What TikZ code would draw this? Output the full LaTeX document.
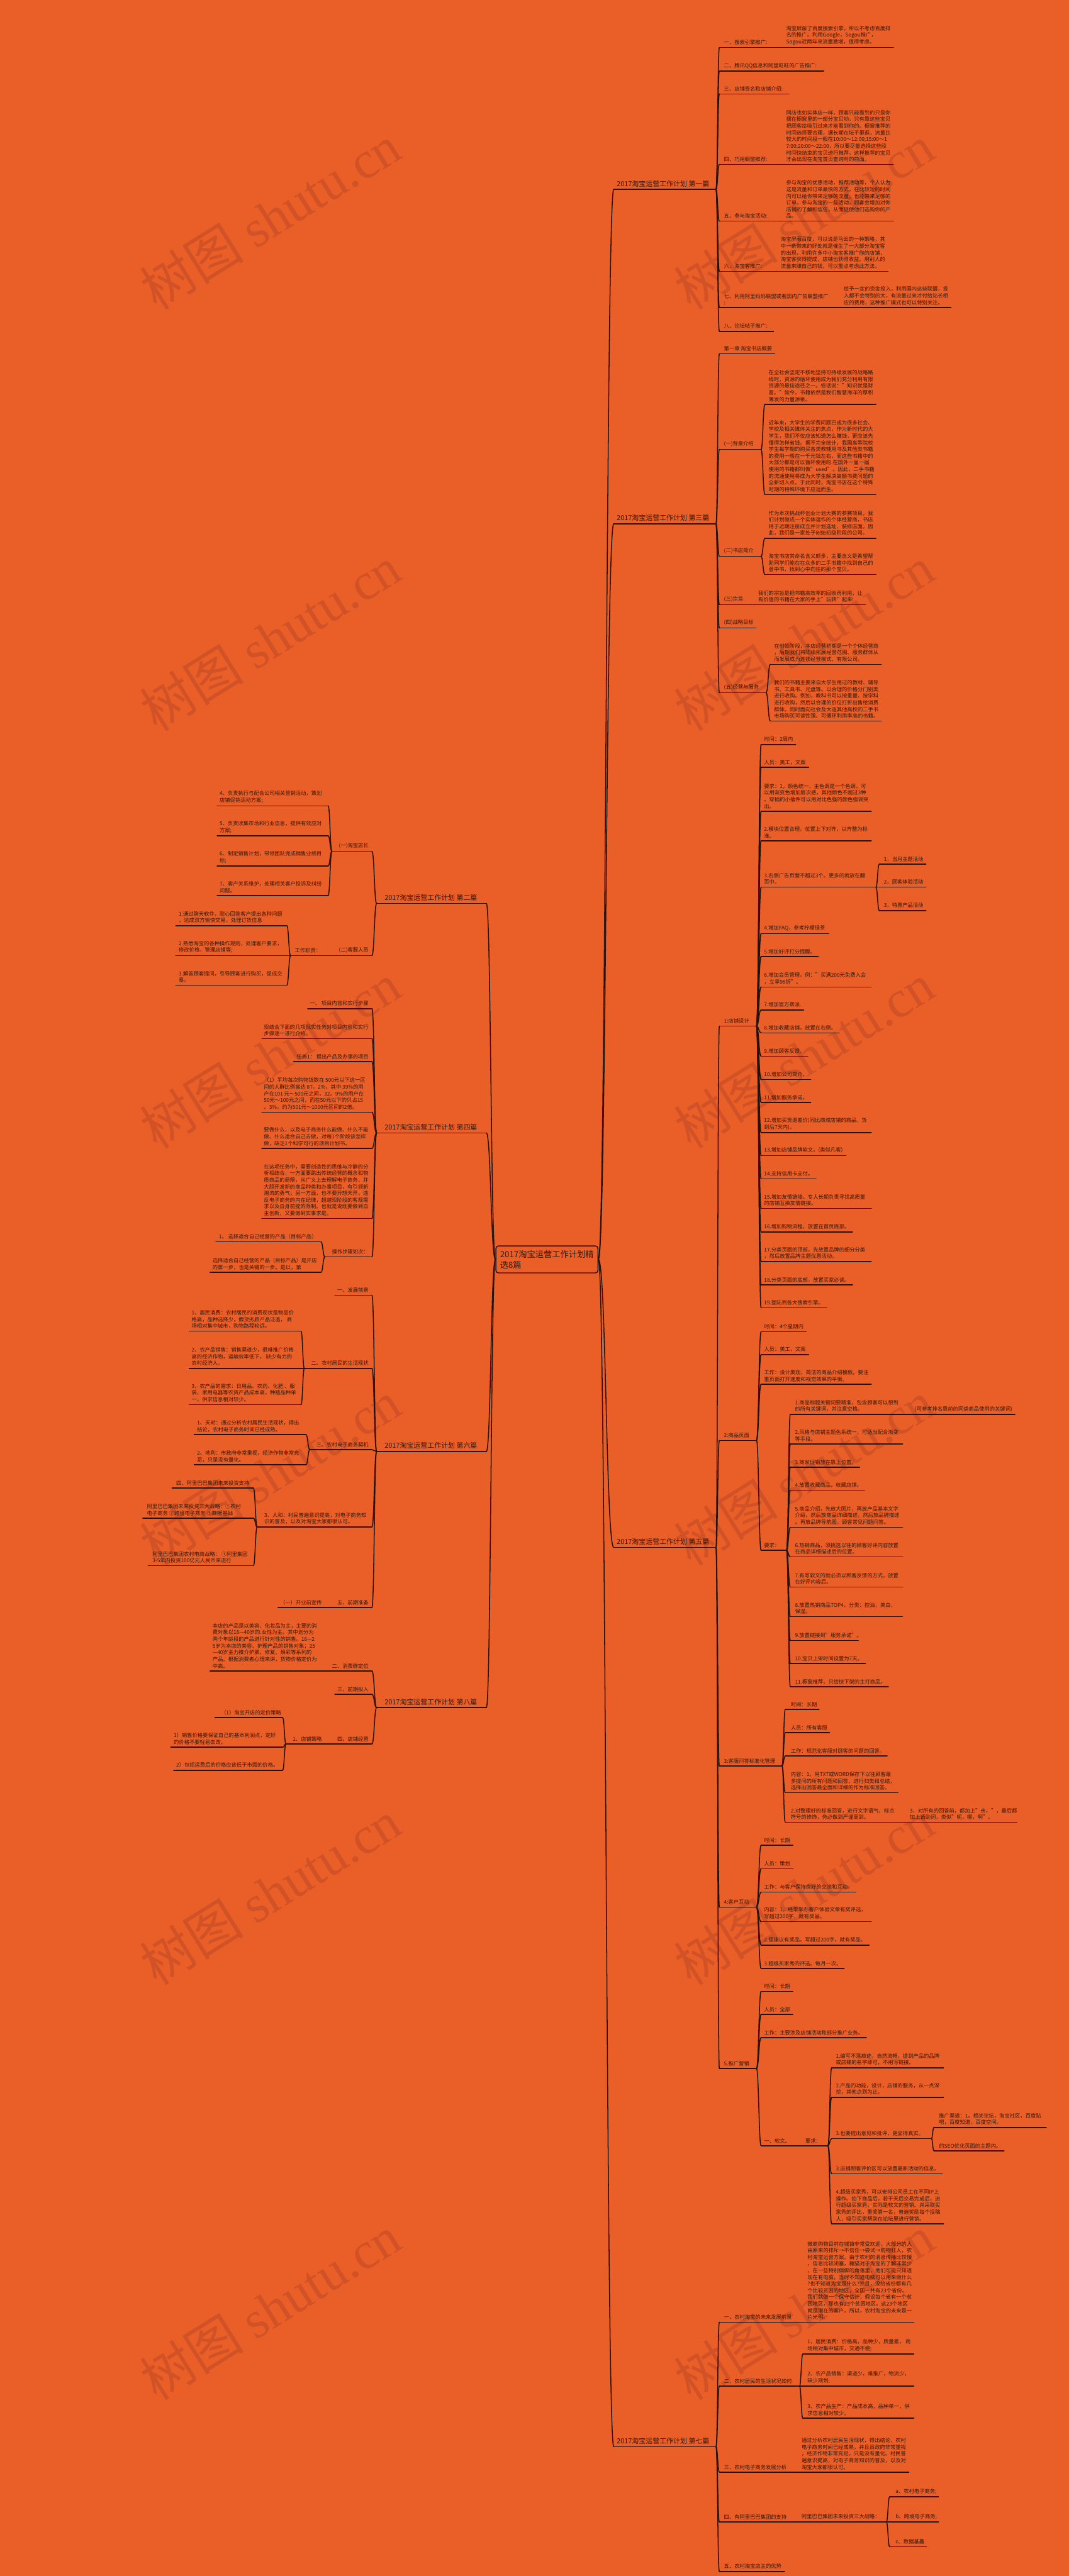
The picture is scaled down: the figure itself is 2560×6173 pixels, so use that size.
\documentclass[tikz,border=0pt]{standalone}
\usepackage{fontspec}
\setmainfont{Noto Sans CJK SC}
\newfontfamily\wmlatin{Liberation Serif}
\usetikzlibrary{calc}
\definecolor{bgc}{RGB}{234,94,39}
\definecolor{txc}{RGB}{48,24,14}
\definecolor{lnc}{RGB}{38,18,10}
\definecolor{wmc}{RGB}{208,82,38}
\tikzset{
 txt/.style={anchor=south west, inner sep=0pt, align=left, text=txc, font=\fontsize{12.5}{16}\selectfont},
 txtR/.style={anchor=south east, inner sep=0pt, align=left, text=txc, font=\fontsize{12.5}{16}\selectfont},
 mtxt/.style={anchor=south west, inner sep=0pt, align=left, text=txc, font=\fontsize{16.5}{20}\selectfont},
 ul/.style={draw=lnc, line width=2.3pt, line cap=round},
 wm/.style={text=wmc, rotate=32, font=\fontsize{125}{125}\selectfont, inner sep=0pt},
}
% \ND[style]{name}{text x}{underline y}{underline left x}{underline right x}{text}
\newcommand\ND[7][txt]{%
 \coordinate (L#2) at (#5,#4);
 \coordinate (R#2) at (#6,#4);
 \node[#1] (#2) at (#3,#4-6) {#7};
 \draw[ul] (L#2) -- (R#2);}
\newcommand\conn[2]{%
 \coordinate (mid) at ($(#1)!0.5!(#2)$);
 \draw[ul] (#1) .. controls (mid |- #1) and (mid |- #2) .. (#2);}
\begin{document}
\begin{tikzpicture}[x=1pt,y=-1pt]
\fill[bgc] (0,0) rectangle (2560,6173);
\useasboundingbox (0,0) rectangle (2560,6173);
% watermarks
\foreach \yy in {520,1530,2530,3530,4535,5530}{
 \node[wm] (wmL\yy) at (647,\yy) {树图 {\wmlatin shutu.cn}};
 \node[wm] (wmR\yy) at (1926,\yy) {树图 {\wmlatin shutu.cn}};
}
% root
\node[draw=lnc, line width=2.2pt, rounded corners=6pt, fill=bgc, inner sep=10pt, align=left, text=txc, font=\fontsize{20}{26}\selectfont] (root) at (1310,3018) {2017淘宝运营工作计划精\\选8篇};
\coordinate (rootE) at (root.east);
\coordinate (rootW) at (root.west);

% ================= RIGHT: 第一篇
\ND[mtxt]{b1}{1477}{454}{1470}{1715}{2017淘宝运营工作计划 第一篇}
\ND{b1c1}{1734}{114}{1723}{1870}{一、搜索引擎推广:}
\ND{b1c1t}{1883}{114}{1870}{2140}{淘宝屏蔽了百度搜索引擎，所以不考虑百度排\\名的推广。利用Google，Sogou推广，\\Sogou近两年来流量激增，值得考虑。}
\ND{b1c2}{1734}{170}{1723}{1973}{二、腾讯QQ信息和阿里旺旺的广告推广:}
\ND{b1c3}{1734}{225}{1723}{1890}{三、店铺签名和店铺介绍:}
\ND{b1c4}{1734}{394}{1723}{1870}{四、巧用橱窗推荐:}
\ND{b1c4t}{1883}{394}{1870}{2140}{网店也如实体店一样，顾客只能看到的只是你\\摆在橱窗里的一部分宝贝哟，只有靠这些宝贝\\把顾客给吸引过来才能看到你的。橱窗推荐的\\时间选择要合理，据长期在坛子里逛，流量比\\较大的时间段一般在10:00～12:00;15:00～1\\7:00;20:00～22:00，所以要尽量选择这些段\\时间快结束的宝贝进行推荐，这样推荐的宝贝\\才会出现在淘宝首页查询时的前面。}
\ND{b1c5}{1734}{530}{1723}{1870}{五、参与淘宝活动:}
\ND{b1c5t}{1883}{530}{1870}{2140}{参与淘宝的优惠活动，推荐活动等，个人认为\\这是流量和订单最快的方式，在比较短的时间\\内可以给你带来足够的流量，也能带来足够的\\订单。参与淘宝的一些活动，顾客会增加对你\\店铺的了解和信任，从而促使他们选购你的产\\品。}
\ND{b1c6}{1734}{650}{1723}{1860}{六、淘宝客推广:}
\ND{b1c6t}{1870}{650}{1860}{2127}{淘宝屏蔽百度，可以说是马云的一种策略，其\\中一条带来的好处就是催生了一大部分淘宝客\\的出现，利用许多中小淘宝客推广你的店铺，\\淘宝客获得提成，店铺也获得收益。用别人的\\流量来赚自己的钱，可以重点考虑此方法。}
\ND{b1c7}{1734}{737}{1723}{2010}{七、利用阿里妈妈联盟或者国内广告联盟推广\\:}
\ND{b1c7t}{2021}{737}{2010}{2278}{给予一定的资金投入，利用国内这些联盟，投\\入都不会特别的大，有流量过来才付给站长相\\应的费用，这种推广模式也可以特别关注。}
\ND{b1c8}{1734}{794}{1723}{1853}{八、论坛帖子推广:}
\foreach \c in {b1c1,b1c2,b1c3,b1c4,b1c5,b1c6,b1c7,b1c8}{\conn{Rb1}{L\c}}
\foreach \c in {b1c1,b1c4,b1c5,b1c6,b1c7}{\conn{R\c}{L\c t}}

% ================= RIGHT: 第三篇
\ND[mtxt]{b3}{1477}{1255}{1470}{1715}{2017淘宝运营工作计划 第三篇}
\ND{b3c1}{1734}{848}{1723}{1856}{第一章 淘宝书店概要}
\ND{b3c2}{1734}{1077}{1723}{1823}{(一)背景介绍}
\ND{b3c2a}{1841}{969}{1832}{2098}{在全社会坚定不移地坚持可持续发展的战略路\\线时，资源的循环使用成为我们充分利用有限\\资源的最佳途径之一。俗话说："知识就是财\\富。"如今，书籍依然是我们智慧海洋的厚积\\薄发的力量源泉。}
\ND{b3c2b}{1841}{1185}{1832}{2098}{近年来，大学生的学费问题已成为很多社会、\\学校及相关媒体关注的焦点，作为新时代的大\\学生，我们不仅应该知道怎么赚钱，更应该先\\懂得怎样省钱。据不完全统计，我国高等院校\\学生每学期的购买各类教辅用书及其他类书籍\\的费用一般在一千元钱左右，而这些书籍中的\\大部分都是可以循环使用的.在国外一届一届\\使用的书籍都叫做"used"。因此，二手书籍\\的流通使用将成为大学生解决高额书费问题的\\全新切入点。于此同时，淘宝书店在这个特殊\\时期的特殊环境下应运而生。}
\ND{b3c3}{1734}{1333}{1723}{1823}{(二)书店简介}
\ND{b3c3a}{1841}{1290}{1832}{2098}{作为本次挑战杯创业计划大赛的参赛项目，我\\们计划做成一个实体运作的个体经营商，书店\\将于近期注册成立并计划选址、装修店面。因\\此，我们是一家处于创始初级阶段的公司。}
\ND{b3c3b}{1841}{1377}{1832}{2098}{淘宝书店其命名含义颇多，主要含义是希望帮\\助同学们能在在众多的二手书籍中找到自己的\\意中书，找到心中向往的那个宝贝。}
\ND{b3c4}{1734}{1449}{1723}{1808}{(三)宗旨}
\ND{b3c4t}{1816}{1449}{1808}{2073}{我们的宗旨是把书籍高效率的回收再利用，让\\有价值的书籍在大家的手上"玩转"起来!}
\ND{b3c5}{1734}{1505}{1723}{1811}{(四)战略目标}
\ND{b3c6}{1734}{1660}{1723}{1835}{(五)经营与服务}
\ND{b3c6a}{1854}{1592}{1845}{2111}{在创始阶段，本店经营初期是一个个体经营商\\，后期我们将陆续拓展经营范围、服务群体从\\而发展成为连锁经营模式、有限公司。}
\ND{b3c6b}{1854}{1728}{1845}{2111}{我们的书籍主要来自大学生用过的教材、辅导\\书、工具书、光盘等。以合理的价格分门别类\\进行收购。例如，教科书可以按重量、按学科\\进行收购，然后以合理的价位打折出售给消费\\群体。同时面向社会及大连其他高校的二手书\\市场购买可读性强、可循环利用率高的书籍。}
\foreach \c in {b3c1,b3c2,b3c3,b3c4,b3c5,b3c6}{\conn{Rb3}{L\c}}
\conn{Rb3c2}{Lb3c2a}\conn{Rb3c2}{Lb3c2b}
\conn{Rb3c3}{Lb3c3a}\conn{Rb3c3}{Lb3c3b}
\conn{Rb3c4}{Lb3c4t}
\conn{Rb3c6}{Lb3c6a}\conn{Rb3c6}{Lb3c6b}

% ================= RIGHT: 第五篇
\ND[mtxt]{b5}{1477}{3708}{1470}{1715}{2017淘宝运营工作计划 第五篇}
\ND{d1}{1734}{2459}{1723}{1812}{1:店铺设计}
\ND{d1a}{1830}{1784}{1823}{1906}{时间：2周内}
\ND{d1b}{1830}{1839}{1823}{1937}{人员：美工，文案}
\ND{d1c}{1830}{1944}{1823}{2087}{要求：1。颜色统一，主色调是一个色调，可\\以用渐变色增加层次感，其他颜色不超过3种\\。穿插的小插件可以用对比色强的颜色强调突\\出。}
\ND{d1d}{1830}{2015}{1823}{2087}{2.模块位置合理。位置上下对齐，以齐整为标\\准。}
\ND{d1e}{1830}{2126}{1823}{2098}{3.右侧广告页面不超过3个。更多的就放在翻\\页中。}
\ND{d1e1}{2117}{2071}{2106}{2218}{1，当月主题活动}
\ND{d1e2}{2117}{2126}{2106}{2218}{2，顾客体验活动}
\ND{d1e3}{2117}{2182}{2106}{2218}{3，特惠产品活动}
\ND{d1f}{1830}{2237}{1823}{1985}{4.增加FAQ，参考柠檬绿茶}
\ND{d1g}{1830}{2292}{1823}{1960}{5.增加好评打分提醒。}
\ND{d1h}{1830}{2365}{1823}{2087}{6.增加会员管理，例："买满200元免费入会\\，立享98折"。}
\ND{d1i}{1830}{2420}{1823}{1925}{7.增加官方帮派.}
\ND{d1j}{1830}{2475}{1823}{2010}{8.增加收藏店铺，放置在右侧。}
\ND{d1k}{1830}{2531}{1823}{1935}{9.增加顾客反馈。}
\ND{d1l}{1830}{2587}{1823}{1942}{10.增加公司简介。}
\ND{d1m}{1830}{2642}{1823}{1942}{11.增加服务承诺。}
\ND{d1n}{1830}{2714}{1823}{2087}{12.增加买贵退差价(同比商城店铺的商品，货\\到后7天内)。}
\ND{d1o}{1830}{2769}{1823}{2026}{13.增加店铺品牌软文。(类似凡客)}
\ND{d1p}{1830}{2825}{1823}{1955}{14.支持信用卡支付。}
\ND{d1q}{1830}{2896}{1823}{2087}{15.增加友情链接。专人长期负责寻找高质量\\的店铺互换友情链接。}
\ND{d1r}{1830}{2952}{1823}{2042}{16.增加购物流程，放置在首页底部。}
\ND{d1s}{1830}{3023}{1823}{2087}{17.分类页面的顶部，先放置品牌的细分分类\\，然后放置品牌主题优惠活动。}
\ND{d1t}{1830}{3079}{1823}{2042}{18.分类页面的底部，放置买家必读。}
\ND{d1u}{1830}{3134}{1823}{1980}{19.登陆到各大搜索引擎。}
\foreach \c in {d1a,d1b,d1c,d1d,d1e,d1f,d1g,d1h,d1i,d1j,d1k,d1l,d1m,d1n,d1o,d1p,d1q,d1r,d1s,d1t,d1u}{\conn{Rd1}{L\c}}
\foreach \c in {d1e1,d1e2,d1e3}{\conn{Rd1e}{L\c}}

\ND{d2}{1734}{3452}{1723}{1812}{2:商品页面}
\ND{d2a}{1830}{3191}{1823}{1931}{时间：4个星期内}
\ND{d2b}{1830}{3246}{1823}{1937}{人员：美工，文案}
\ND{d2c}{1830}{3317}{1823}{2087}{工作：设计美观，简洁的商品介绍模板。要注\\重页面打开速度和视觉效果的平衡。}
\ND{d2d}{1830}{3715}{1823}{1884}{要求：}
\ND{d2d1}{1904}{3389}{1893}{2162}{1.商品标题关键词要精准，包含顾客可以想到\\的所有关键词，并注意空格。}
\ND{d2d1x}{2191}{3389}{2162}{2431}{(可参考排名靠前的同类商品使用的关键词)}
\ND{d2d2}{1904}{3460}{1893}{2162}{2.风格与店铺主题色系统一，可适当配合渐变\\等手段。}
\ND{d2d3}{1904}{3516}{1893}{2059}{3.商家促销放在靠上位置。}
\ND{d2d4}{1904}{3571}{1893}{2071}{4.放置收藏商品，收藏店铺。}
\ND{d2d5}{1904}{3660}{1893}{2162}{5.商品介绍，先放大图片，再放产品基本文字\\介绍，然后放商品详细描述，然后放品牌描述\\。再放品牌导航图，顾客常见问题问答。}
\ND{d2d6}{1904}{3731}{1893}{2162}{6.热销商品，须挑选以往的顾客好评内容放置\\在商品详细描述后的位置。}
\ND{d2d7}{1904}{3803}{1893}{2162}{7.有写软文的就必须以顾客反馈的方式，放置\\在好评内容后。}
\ND{d2d8}{1904}{3874}{1893}{2162}{8.放置热销商品TOP4，分类：控油，美白，\\保湿。}
\ND{d2d9}{1904}{3931}{1893}{2056}{9.放置链接到"服务承诺"。}
\ND{d2d10}{1904}{3986}{1893}{2073}{10.宝贝上架时间设置为7天。}
\ND{d2d11}{1904}{4042}{1893}{2128}{11.橱窗推荐，只给快下架的主打商品。}
\foreach \c in {d2a,d2b,d2c,d2d}{\conn{Rd2}{L\c}}
\foreach \c in {d2d1,d2d2,d2d3,d2d4,d2d5,d2d6,d2d7,d2d8,d2d9,d2d10,d2d11}{\conn{Rd2d}{L\c}}
\conn{Rd2d1}{Ld2d1x}

\ND{d3}{1734}{4232}{1723}{1873}{3:客服问答标准化管理}
\ND{d3a}{1894}{4096}{1881}{1962}{时间：长期}
\ND{d3b}{1894}{4152}{1881}{1987}{人员：所有客服}
\ND{d3c}{1894}{4208}{1881}{2125}{工作：规范化客服对顾客的问题的回答。}
\ND{d3d}{1894}{4296}{1881}{2151}{内容：1。用TXT或WORD保存下以往顾客最\\多提问的所有问题和回答，进行归类和总结，\\选择出回答最全面和详细的作为标准回答。}
\ND{d3e}{1894}{4367}{1881}{2168}{2.对整理好的标准回答，进行文字语气，标点\\符号的修饰，务必做到严谨周到。}
\ND{d3e1}{2179}{4367}{2168}{2436}{3，对所有的回答前，都加上"亲，"，最后都\\加上语助词，类似"呢，哪，啊"。}
\foreach \c in {d3a,d3b,d3c,d3d,d3e}{\conn{Rd3}{L\c}}
\conn{Rd3e}{Ld3e1}

\ND{d4}{1734}{4570}{1723}{1812}{4:客户互动}
\ND{d4a}{1830}{4422}{1823}{1899}{时间：长期}
\ND{d4b}{1830}{4478}{1823}{1899}{人员：策划}
\ND{d4c}{1830}{4534}{1823}{2050}{工作：与客户保持良好的交流和互动。}
\ND{d4d}{1830}{4605}{1823}{2087}{内容：1。经常举办客户体验文章有奖评选，\\写超过200字，就有奖品。}
\ND{d4e}{1830}{4661}{1823}{2082}{2.提建议有奖品。写超过200字，就有奖品。}
\ND{d4f}{1830}{4717}{1823}{2022}{3.超级买家秀的评选。每月一次。}
\foreach \c in {d4a,d4b,d4c,d4d,d4e,d4f}{\conn{Rd4}{L\c}}

\ND{d5}{1734}{4957}{1723}{1812}{5.推广营销}
\ND{d5a}{1830}{4772}{1823}{1899}{时间：长期}
\ND{d5b}{1830}{4827}{1823}{1899}{人员：全部}
\ND{d5c}{1830}{4883}{1823}{2075}{工作：主要涉及店铺活动和部分推广业务。}
\ND{d5d}{1830}{5142}{1823}{1920}{一、软文。}
\ND{d5e}{1929}{5142}{1920}{1983}{要求：}
\ND{d5e1}{2002}{4955}{1992}{2260}{1.编写不落痕迹，自然流畅，提到产品的品牌\\或店铺的名字即可，不用写链接。}
\ND{d5e2}{2002}{5026}{1992}{2260}{2.产品的功能，设计，店铺的服务，从一点深\\挖，其他点到为止。}
\ND{d5e3}{2002}{5125}{1992}{2231}{3.也要提出意见和批评，更显得真实。}
\ND{d5e3a}{2249}{5098}{2237}{2506}{推广渠道：1。相关论坛，淘宝社区，百度贴\\吧，百度知道，百度空间。}
\ND{d5e3b}{2249}{5154}{2237}{2405}{的SEO优化页面的主题内。}
\ND{d5e4}{2002}{5209}{1992}{2257}{3.店铺顾客评价区可以放置最新活动的信息。}
\ND{d5e5}{2002}{5329}{1992}{2260}{4.超级买家秀，可以安排公司员工在不同IP上\\操作。拍下商品后，若干天后交易完成后，进\\行超级买家秀，实际是软文的营销。并采取买\\家秀的评比，重奖第一名，普遍奖励每个投稿\\人，吸引买家帮助在论坛里进行营销。}
\foreach \c in {d5a,d5b,d5c,d5d}{\conn{Rd5}{L\c}}
\conn{Rd5d}{Ld5e}
\foreach \c in {d5e1,d5e2,d5e3,d5e4,d5e5}{\conn{Rd5e}{L\c}}
\conn{Rd5e3}{Ld5e3a}\conn{Rd5e3}{Ld5e3b}
\foreach \c in {d1,d2,d3,d4,d5}{\conn{Rb5}{L\c}}

% ================= RIGHT: 第七篇
\ND[mtxt]{b7}{1477}{5863}{1470}{1715}{2017淘宝运营工作计划 第七篇}
\ND{f1}{1734}{5565}{1723}{1923}{一、农村淘宝的未来发展前景}
\ND{f1t}{1934}{5565}{1923}{2189}{微商购物目前在城镇非常受欢迎，大部分的人\\由原来的排斥→不信任→尝试→购物狂人，农\\村淘宝运营方案。由于农村的消息传播比较慢\\，信息比较闭塞，糖猫对于淘宝的了解非常少\\，在一些特别偏僻的角落里，他们可能只知道\\现在有电脑，当时不知道电脑可以用来做什么\\?也不知道淘宝是什么?并且，没给省份都有几\\个比较贫困的地区，全国一共有23个省份。\\我们就做一个保守估计，假设每个省有一个贫\\困地区，那也有23个贫困地区。这23个地区\\就是潜在的客户。所以，农村淘宝的未来是一\\片光明。}
\ND{f2}{1734}{5718}{1723}{1915}{二、农村居民的生活状况如何}
\ND{f2a}{1934}{5641}{1923}{2189}{1、居民消费：价格高，品种少，质量差， 商\\场相对集中城市，交通不便;}
\ND{f2b}{1934}{5718}{1923}{2189}{2、农产品销售：渠道少，难推广，物流少，\\缺少规划;}
\ND{f2c}{1934}{5795}{1923}{2189}{3、农产品生产：产品成本高，品种单一，供\\求信息相对较少。}
\ND{f3}{1734}{5924}{1723}{1910}{三、农村电子商务发展分析}
\ND{f3t}{1920}{5924}{1910}{2177}{通过分析农村居民生活现状，得出结论，农村\\电子商务时间已经成熟，并且县政府非常重视\\，经济作物非常充足，只是没有量化。村民普\\遍意识提高，对电子商务知识的普及，以及对\\淘宝大家都很认可。}
\ND{f4}{1734}{6043}{1723}{1910}{四、有阿里巴巴集团的支持}
\ND{f4t}{1920}{6043}{1910}{2123}{阿里巴巴集团未来投资三大战略：}
\ND{f4a}{2145}{5983}{2131}{2248}{a、农村电子商务;}
\ND{f4b}{2145}{6043}{2131}{2248}{b、跨境电子商务;}
\ND{f4c}{2145}{6103}{2131}{2219}{c、数据基矗}
\ND{f5}{1734}{6162}{1723}{1879}{五、农村淘宝店主的优势}
\foreach \c in {f1,f2,f3,f4,f5}{\conn{Rb7}{L\c}}
\conn{Rf1}{Lf1t}\conn{Rf3}{Lf3t}\conn{Rf4}{Lf4t}
\foreach \c in {f2a,f2b,f2c}{\conn{Rf2}{L\c}}
\foreach \c in {f4a,f4b,f4c}{\conn{Rf4t}{L\c}}

% ================= LEFT: 第二篇
\ND[mtxt]{b2}{921}{2165}{902}{1165}{2017淘宝运营工作计划 第二篇}
\ND[txtR]{e1}{883}{2040}{795}{891}{(一)淘宝店长}
\ND{e1a}{526}{1931}{520}{786}{4、负责执行与配合公司相关营销活动，策划\\店铺促销活动方案;}
\ND{e1b}{526}{2003}{520}{786}{5、负责收集市场和行业信息，提供有效应对\\方案;}
\ND{e1c}{526}{2075}{520}{786}{6、制定销售计划，带领团队完成销售业绩目\\标;}
\ND{e1d}{526}{2146}{520}{786}{7、客户关系维护，处理相关客户投诉及纠纷\\问题。}
\ND[txtR]{e2}{883}{2290}{780}{891}{(二)客服人员}
\ND[txtR]{e2w}{769}{2290}{696}{780}{工作职责：}
\ND{e2a}{428}{2218}{421}{687}{1.通过聊天软件，耐心回答客户提出各种问题\\，达成双方愉快交易，处理订货信息}
\ND{e2b}{428}{2290}{421}{687}{2.熟悉淘宝的各种操作规则，处理客户要求，\\修改价格，管理店铺等;}
\ND{e2c}{428}{2361}{421}{687}{3.解答顾客提问，引导顾客进行购买，促成交\\易。}
\conn{Lb2}{Re1}\conn{Lb2}{Re2}
\foreach \c in {e1a,e1b,e1c,e1d}{\conn{Le1}{R\c}}
\conn{Le2}{Re2w}
\foreach \c in {e2a,e2b,e2c}{\conn{Le2w}{R\c}}

% ================= LEFT: 第四篇
\ND[mtxt]{b4}{921}{2715}{902}{1165}{2017淘宝运营工作计划 第四篇}
\ND[txtR]{g1}{883}{2417}{737}{891}{一、 项目内容和实行步骤}
\ND{g2}{632}{2489}{627}{891}{现结合下面的几项现实任务对项目内容和实行\\步骤逐一进行介绍。}
\ND[txtR]{g3}{883}{2544}{703}{891}{任务1： 提出产品及办事的项目}
\ND{g4}{632}{2665}{627}{891}{（1）平均每次购物钱数在 500元以下这一区\\间的人群比例高达 87。2\%，其中 39\%的用\\户在101 元～500元之间，32。9\%的用户在\\50元～100元之间，而在50元以下的只占15\\。3\%，约为501元～1000元区间的2倍。}
\ND{g5}{632}{2752}{627}{891}{要做什么，以及电子商务什么能做、什么不能\\做、什么适合自己去做，对每1个阶段该怎样\\做，缺乏1个科学可行的项目计划书。}
\ND{g6}{632}{2920}{627}{891}{在这项任务中，需要创造性的思维与冷静的分\\析相结合，一方面要跳出传统经营的概念和物\\质商品的局限，从广义上去理解电子商务，并\\大胆开发新的商品种类和办事项目，有引领新\\潮流的勇气；另一方面，也不要异想天开，违\\反电子商务的内在纪律，超越现阶段的客观需\\求以及自身前提的限制。也就是说既要做到自\\主创新，又要做到实事求是。}
\ND[txtR]{g7}{883}{3012}{778}{891}{操作步骤如次：}
\ND{g7a}{524}{2976}{517}{769}{1。 选择适合自己经营的产品（目标产品）}
\ND{g7b}{509}{3049}{503}{769}{选择适合自己经营的产品（目标产品）是开店\\的第一步，也是关键的一步。是以，第}
\foreach \c in {g1,g2,g3,g4,g5,g6,g7}{\conn{Lb4}{R\c}}
\conn{Lg7}{Rg7a}\conn{Lg7}{Rg7b}

% ================= LEFT: 第六篇
\ND[mtxt]{b6}{921}{3478}{902}{1165}{2017淘宝运营工作计划 第六篇}
\ND[txtR]{h1}{883}{3104}{802}{891}{一、发展前景}
\ND[txtR]{h2}{883}{3279}{729}{891}{二、农村居民的生活现状}
\ND{h2a}{459}{3190}{453}{721}{1、居民消费：农村居民的消费现状是物品价\\格高，品种选择少，假货劣质产品泛滥， 商\\场相对集中城市，购物路程较远。}
\ND{h2b}{459}{3279}{453}{721}{2、农产品销售：销售渠道少，很难推广价格\\高的经济作物，运输效率低下， 缺少有力的\\农村经济人。}
\ND{h2c}{459}{3366}{453}{721}{3、农产品的需求：日用品、农药、化肥 、服\\装、家用电器等农资产品成本高，种植品种单\\一，供求信息相对较少。}
\ND[txtR]{h3}{883}{3474}{742}{891}{三、农村电子商务契机}
\ND{h3a}{472}{3438}{465}{733}{1、天时：通过分析农村居民生活现状，得出\\结论，农村电子商务时间已经成熟。}
\ND{h3b}{472}{3510}{465}{733}{2、地利：市政府非常重视，经济作物非常充\\足，只是没有量化。}
\ND{h4}{633}{3659}{616}{891}{3、人和：村民普遍意识提高，对电子商务知\\识的普及，以及对淘宝大家都很认可。}
\ND{h4a}{422}{3566}{412}{607}{四、阿里巴巴集团未来投资支持}
\ND{h4b}{352}{3638}{342}{607}{阿里巴巴集团未来投资三大战略：①农村\\电子商务 ②跨境电子商务 ③数据基础}
\ND{h4c}{365}{3752}{355}{607}{阿里巴巴集团农村电商战略： ①阿里集团\\3-5年内投资100亿元人民币来进行}
\ND[txtR]{h5}{883}{3852}{790}{891}{五、前期准备}
\ND[txtR]{h5a}{771}{3852}{666}{790}{（一）开业前宣传}
\foreach \c in {h1,h2,h3,h4,h5}{\conn{Lb6}{R\c}}
\foreach \c in {h2a,h2b,h2c}{\conn{Lh2}{R\c}}
\foreach \c in {h3a,h3b}{\conn{Lh3}{R\c}}
\foreach \c in {h4a,h4b,h4c}{\conn{Lh4}{R\c}}
\conn{Lh5}{Rh5a}

% ================= LEFT: 第八篇
\ND[mtxt]{b8}{921}{4092}{902}{1165}{2017淘宝运营工作计划 第八篇}
\ND[txtR]{k1}{883}{4004}{785}{891}{二、消费群定位}
\ND{k1t}{509}{4004}{503}{785}{本店的产品是以美容、化妆品为主，主要的消\\费对象以18—40岁的.女性为主。其中划分为\\两个年龄段的产品进行针对性的销售。18—2\\5岁为本店的美容、护理产品的销售对象；25\\—40岁主力推介护肤、修复、焕彩等系列的\\产品。根据消费者心理来讲，货物价格定价为\\中高。}
\ND[txtR]{k2}{883}{4060}{802}{891}{三、前期投入}
\ND[txtR]{k3}{883}{4179}{790}{891}{四、店铺经营}
\ND[txtR]{k3a}{771}{4179}{685}{790}{1、店铺策略}
\ND{k3a1}{529}{4116}{515}{677}{（1）淘宝开店的定价策略}
\ND{k3a2}{416}{4187}{409}{677}{1）销售价格要保证自己的基本利润点，定好\\的价格不要轻易去改。}
\ND{k3a3}{422}{4242}{416}{677}{2）包括运费后的价格应该低于市面的价格。}
\foreach \c in {k1,k2,k3}{\conn{Lb8}{R\c}}
\conn{Lk1}{Rk1t}\conn{Lk3}{Rk3a}
\foreach \c in {k3a1,k3a2,k3a3}{\conn{Lk3a}{R\c}}

% ================= root connectors
\foreach \c in {b1,b3,b5,b7}{\conn{rootE}{L\c}}
\foreach \c in {b2,b4,b6,b8}{\conn{rootW}{R\c}}
\end{tikzpicture}
\end{document}
